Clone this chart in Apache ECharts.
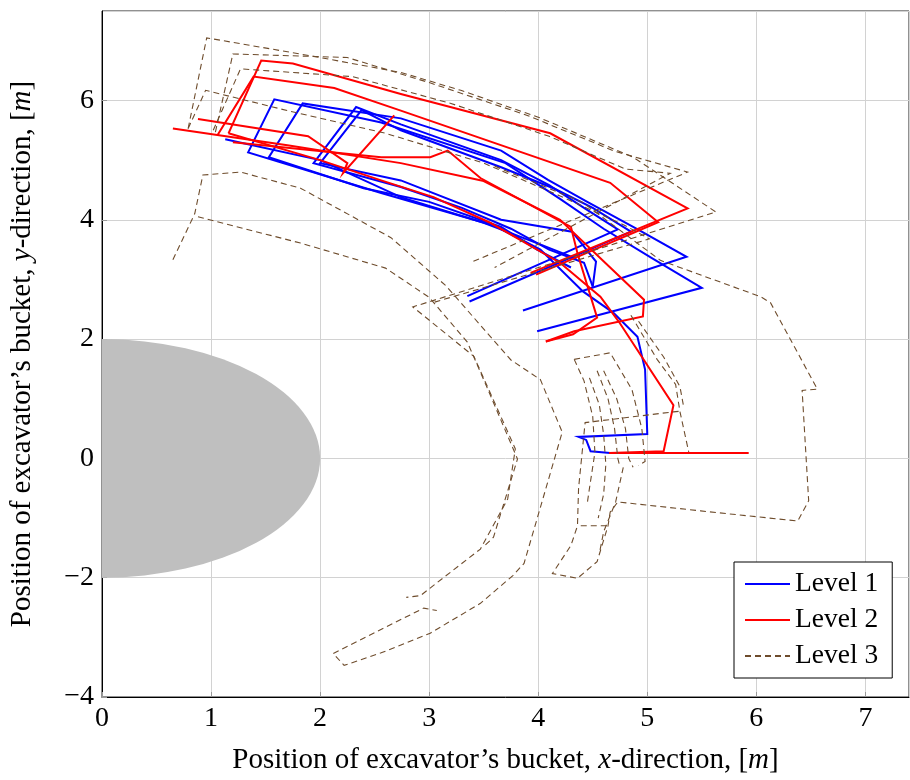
<!DOCTYPE html>
<html>
<head>
<meta charset="utf-8">
<script src="https://cdn.jsdelivr.net/npm/echarts@6.0.0/dist/echarts.min.js"></script>
<style>
  html, body { margin: 0; padding: 0; background: #fff; }
  #chart { width: 910px; height: 780px; }
</style>
</head>
<body>
<div id="chart"></div>
<script>
// Bucket trajectories [x, y] in metres, one array per digging run.
const level1RunA = [[3.35,2.72],[4.73,3.84],[4.42,4.2],[4.1,4.58],[3.66,5.0],[2.74,5.6],[2.33,5.89],[1.94,4.95],[2.74,4.55],[3.3,4.2],[3.75,3.85],[4.1,3.5],[4.42,3.28],[4.5,2.88]];
const level1RunB = [[3.37,2.63],[4.85,3.8],[4.5,4.2],[4.15,4.52],[3.66,4.88],[2.74,5.5],[2.38,5.84],[2.0,4.95],[2.74,4.66],[3.66,4.0],[4.31,3.8],[4.53,3.3],[4.5,2.88]];
const level1RunC = [[3.86,2.48],[5.36,3.38],[4.9,3.85],[4.45,4.3],[4.09,4.67],[3.66,5.16],[2.74,5.7],[1.84,5.95],[1.53,5.05],[2.4,4.53],[3.0,4.3],[3.66,3.88],[3.99,3.5],[4.3,3.2]];
const level1RunD = [[3.99,2.13],[5.50,2.86],[5.05,3.35],[4.6,3.85],[4.2,4.35],[3.7,4.95],[2.56,5.63],[1.58,6.02],[1.34,5.13],[2.56,4.45],[3.6,3.9],[4.02,3.5],[4.41,2.80],[4.69,2.44],[4.91,2.04],[4.98,1.49],[5.0,0.41],[4.37,0.36],[4.44,0.31],[4.48,0.12],[4.66,0.09]];
const level1RunE = [[1.13,5.35],[2.0,5.0],[2.74,4.38],[3.5,3.95],[4.0,3.6],[4.35,3.35]];

const level2RunA = [[0.65,5.53],[1.7,5.25],[2.74,4.95],[3.5,4.65],[4.2,4.0],[4.97,2.66],[4.96,2.38],[4.33,2.13],[4.07,1.96]];
const level2RunB = [[0.88,5.69],[1.89,5.4],[2.25,4.95],[2.21,4.78],[2.68,5.75]];
const level2RunC = [[1.16,5.45],[1.46,6.67],[1.75,6.62],[2.74,6.11],[4.11,5.45],[5.37,4.19],[3.93,3.11]];
const level2RunD = [[1.06,5.42],[1.39,6.40],[2.13,6.21],[2.74,5.83],[4.66,4.62],[5.10,3.96],[3.98,3.08]];
const level2RunE = [[1.2,5.3],[2.56,5.05],[3.01,5.05],[3.17,5.16],[3.47,4.7],[4.3,3.88],[4.36,3.44],[4.54,2.36],[4.32,2.08],[4.07,1.96]];
const level2RunF = [[1.16,5.45],[2.0,5.0],[2.56,4.66],[3.04,4.38],[3.56,3.95],[4.2,3.28],[4.57,2.71],[4.74,2.29],[5.24,0.89],[5.15,0.12],[4.65,0.09],[5.93,0.09]];

const level3RunA = [[0.79,5.53],[0.96,7.05],[1.91,6.75],[2.74,6.47],[3.29,6.17],[4.0,5.72],[4.87,5.05],[5.63,4.13],[2.85,2.54],[3.41,1.71],[3.79,0.16],[3.72,-0.68],[3.47,-1.52],[2.92,-2.30],[2.79,-2.33]];
const level3RunB = [[0.65,3.33],[0.85,4.1],[0.925,4.75],[1.27,4.80],[1.82,4.53],[2.65,3.70],[3.15,2.9],[3.75,1.65],[4.02,1.32],[4.22,0.44],[3.99,-1.01],[3.87,-1.76],[3.77,-1.96],[3.47,-2.43],[3.01,-2.93],[2.56,-3.26],[2.22,-3.47],[2.12,-3.27],[2.95,-2.51],[3.07,-2.55]];
const level3RunC = [[0.88,4.05],[1.82,3.61],[2.6,3.19],[3.0,2.7],[3.35,1.95],[3.5,1.32],[3.81,-0.01],[3.59,-1.32],[3.5,-1.48]];
const level3RunD = [[1.04,5.47],[1.2,6.78],[2.25,6.72],[3.0,6.3],[3.9,5.75],[4.7,5.15],[5.37,4.8],[3.4,3.3]];
const level3RunE = [[1.02,5.5],[1.27,6.53],[2.3,6.4],[3.2,5.95],[4.1,5.4],[4.8,4.85],[5.21,4.78],[3.6,3.2]];
const level3RunF = [[3.6,4.9],[4.4,4.3],[5.12,3.32],[6.04,2.71],[6.13,2.61],[6.56,1.16],[6.42,1.14],[6.48,-0.71],[6.38,-1.05],[5.49,-0.88],[4.73,-0.73],[4.66,-0.9],[4.64,-1.13],[4.54,-1.73],[4.36,-2.01],[4.13,-1.93],[4.30,-1.46],[4.36,-1.13],[4.37,-0.5],[4.43,0.6],[5.24,0.78],[5.30,0.79]];
const level3RunG = [[0.79,5.53],[0.95,6.17],[1.70,5.83],[2.6,5.45],[3.5,4.95],[4.2,4.4],[4.8,3.9],[5.02,3.68],[3.05,2.62]];
const level3RunH = [[4.33,1.66],[4.66,1.77],[4.86,1.15],[4.95,0.5],[4.98,-0.05],[4.92,-0.12]];
const level3RunI = [[4.33,1.66],[4.42,1.3],[4.5,0.7],[4.52,0.1],[4.47,-0.5],[4.45,-0.75]];
const level3RunJ = [[4.54,1.47],[4.64,1.0],[4.7,0.5],[4.73,0.0],[4.75,-0.15]];
const level3RunK = [[4.60,1.47],[4.72,1.0],[4.8,0.5],[4.83,0.0],[4.87,-0.15]];
const level3RunL = [[4.47,1.35],[4.56,0.9],[4.6,0.4],[4.62,-0.1],[4.6,-0.6],[4.55,-1.0]];
const level3RunM = [[4.85,2.4],[5.09,1.66],[5.26,1.24],[5.30,0.78],[5.38,0.11]];
const level3RunN = [[4.92,2.3],[5.15,1.7],[5.3,1.2],[5.33,0.9]];
const level3RunO = [[4.39,-1.13],[4.64,-1.13]];
const level3RunP = [[4.78,-0.15],[4.71,-0.73],[4.60,-1.23],[4.56,-1.6]];

const levelNames = ['Level 1', 'Level 2', 'Level 3'];
const level1Runs = [level1RunA, level1RunB, level1RunC, level1RunD, level1RunE];
const level2Runs = [level2RunA, level2RunB, level2RunC, level2RunD, level2RunE, level2RunF];
const level3Runs = [level3RunA, level3RunB, level3RunC, level3RunD, level3RunE, level3RunF, level3RunG,
                    level3RunH, level3RunI, level3RunJ, level3RunK, level3RunL, level3RunM, level3RunN,
                    level3RunO, level3RunP];

// Machine body, drawn as a half ellipse around the origin.
const bodyCenter = [0, 0];
const bodyRadiusX = 2;
const bodyRadiusY = 2;

const xTicks = [0, 1, 2, 3, 4, 5, 6, 7];
const yTicks = [-4, -2, 0, 2, 4, 6];

const FONT = 'Liberation Serif';

const levelStyles = [
  { color: '#0000ff', width: 2, type: 'solid' },
  { color: '#ff0000', width: 2, type: 'solid' },
  { color: '#6e4c2c', width: 1.1, type: [6, 4] }
];

function runSeries(runs, levelIdx) {
  const st = levelStyles[levelIdx];
  return runs.map(run => ({
    type: 'line',
    name: levelNames[levelIdx],
    data: run,
    showSymbol: false,
    symbol: 'none',
    silent: true,
    animation: false,
    z: 3 + levelIdx,
    lineStyle: { color: st.color, width: st.width, type: st.type, cap: 'butt', join: 'miter' },
    itemStyle: { color: st.color }
  }));
}

const axisLabelStyle = { fontFamily: FONT, fontSize: 28, color: '#000' };
const richName = {
  r: { fontFamily: FONT, fontSize: 29, color: '#000' },
  i: { fontFamily: FONT, fontSize: 29, color: '#000', fontStyle: 'italic' }
};

const chart = echarts.init(document.getElementById('chart'), null, { renderer: 'canvas' });

chart.setOption({
  animation: false,
  backgroundColor: '#fff',
  grid: {
    left: 101, top: 11, right: 1, bottom: 81,
    show: true, borderColor: '#222', borderWidth: 1, backgroundColor: 'transparent'
  },
  xAxis: {
    type: 'value', min: 0, max: 7.4, interval: 1,
    axisLine: { show: true, onZero: false, lineStyle: { color: '#000', width: 1 } },
    axisTick: { show: true, inside: true, length: 5, lineStyle: { color: '#999' } },
    splitLine: { show: true, lineStyle: { color: '#d2d2d2', width: 1 } },
    axisLabel: {
      ...axisLabelStyle, margin: 8, showMaxLabel: false,
      formatter: v => xTicks.includes(v) ? String(v) : ''
    },
    name: '{r|Position of excavator’s bucket, }{i|x}{r|-direction, [}{i|m}{r|]}',
    nameLocation: 'middle', nameGap: 49,
    nameTextStyle: { rich: richName }
  },
  yAxis: {
    type: 'value', min: -4, max: 7.5, interval: 2,
    axisLine: { show: true, onZero: false, lineStyle: { color: '#000', width: 1 } },
    axisTick: { show: true, inside: true, length: 5, lineStyle: { color: '#999' } },
    splitLine: { show: true, lineStyle: { color: '#d2d2d2', width: 1 } },
    axisLabel: {
      ...axisLabelStyle, margin: 8, showMaxLabel: false,
      formatter: v => yTicks.includes(v) ? String(v).replace('-', '\u2212') : ''
    },
    name: '{r|Position of excavator’s bucket, }{i|y}{r|-direction, [}{i|m}{r|]}',
    nameLocation: 'middle', nameGap: 65,
    nameTextStyle: { rich: richName }
  },
  legend: {
    data: levelNames,
    orient: 'vertical',
    left: 734, top: 562,
    padding: [8, 14, 8, 10],
    itemWidth: 45, itemHeight: 12, itemGap: 8,
    backgroundColor: '#fff',
    borderColor: '#000', borderWidth: 1, borderRadius: 0,
    itemStyle: { opacity: 0 },
    textStyle: { fontFamily: FONT, fontSize: 27.5, color: '#000' },
    selectedMode: false
  },
  series: [
    {
      type: 'custom',
      name: 'body',
      silent: true,
      z: 1,
      clip: true,
      data: [bodyCenter],
      renderItem: (params, api) => {
        const c = api.coord([api.value(0), api.value(1)]);
        const rx = api.size([bodyRadiusX, 0])[0];
        const ry = api.size([0, bodyRadiusY])[1];
        return {
          type: 'path',
          shape: {
            pathData: `M${c[0]} ${c[1] - ry} A${rx} ${ry} 0 0 1 ${c[0]} ${c[1] + ry} Z`,
            x: c[0], y: c[1] - ry, width: rx, height: 2 * ry
          },
          style: { fill: '#bfbfbf', stroke: null }
        };
      }
    },
    ...runSeries(level1Runs, 0),
    ...runSeries(level2Runs, 1),
    ...runSeries(level3Runs, 2)
  ]
});
</script>
</body>
</html>
